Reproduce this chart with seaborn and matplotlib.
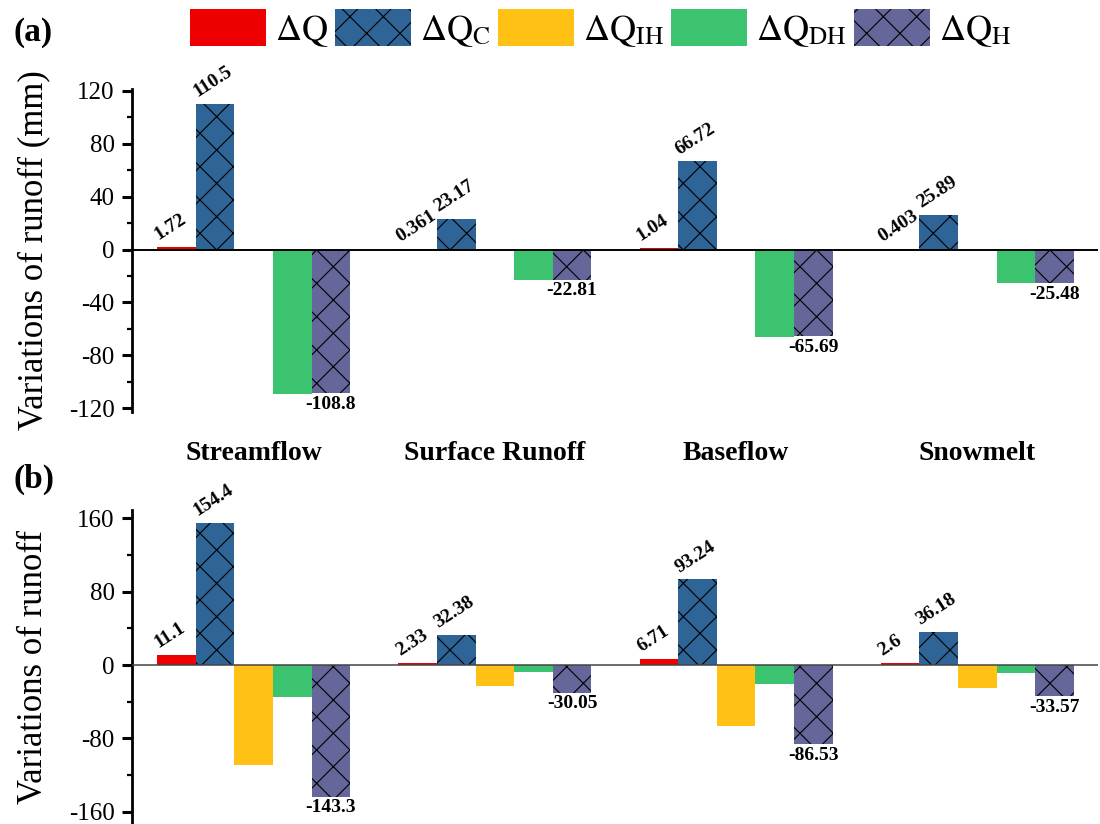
import numpy as np
import pandas as pd
import matplotlib
matplotlib.use("Agg")
import matplotlib.pyplot as plt
from matplotlib.patches import Patch
from matplotlib.ticker import MultipleLocator
import seaborn as sns

# ---------------- data ----------------
categories = ["Streamflow", "Surface Runoff", "Baseflow", "Snowmelt"]
components = ["dQ", "dQC", "dQIH", "dQDH", "dQH"]
legend_labels = [r"$\Delta\mathrm{Q}$", r"$\Delta\mathrm{Q}_{\mathrm{C}}$",
                 r"$\Delta\mathrm{Q}_{\mathrm{IH}}$", r"$\Delta\mathrm{Q}_{\mathrm{DH}}$",
                 r"$\Delta\mathrm{Q}_{\mathrm{H}}$"]

# panel (a)
a_dQ = [1.72, 0.361, 1.04, 0.403]
a_dQC = [110.5, 23.17, 66.72, 25.89]
a_dQIH = [0.5, 0.0, 0.4, 0.0]
a_dQDH = [-109.3, -22.81, -66.09, -25.48]
a_dQH = [-108.8, -22.81, -65.69, -25.48]

# panel (b)
b_dQ = [11.1, 2.33, 6.71, 2.6]
b_dQC = [154.4, 32.38, 93.24, 36.18]
b_dQIH = [-109.0, -22.5, -66.3, -25.3]
b_dQDH = [-34.3, -7.55, -20.23, -8.27]
b_dQH = [-143.3, -30.05, -86.53, -33.57]

colors = ["#EE0000", "#2F6497", "#FFC214", "#3CC36F", "#656699"]
hatched = [False, True, False, False, True]

a_ticks = [-120, -80, -40, 0, 40, 80, 120]
b_ticks = [-160, -80, 0, 80, 160]


def long_df(series):
    rows = []
    for comp, vals in zip(components, series):
        for cat, v in zip(categories, vals):
            rows.append({"category": cat, "component": comp, "value": v})
    return pd.DataFrame(rows)


sns.set_style("white")
plt.rcParams["font.family"] = ["Liberation Serif", "DejaVu Serif"]
plt.rcParams["mathtext.fontset"] = "stix"
plt.rcParams["hatch.linewidth"] = 0.8
plt.rcParams["axes.unicode_minus"] = False
for key in ("text.color", "axes.labelcolor", "xtick.color", "ytick.color"):
    plt.rcParams[key] = "black"

fig = plt.figure(figsize=(11, 8.24), dpi=100)
ax_a = fig.add_axes([0.12, 0.5, 0.878, 0.392])
ax_b = fig.add_axes([0.12, 0.0, 0.878, 0.381])


def draw(ax, series, ylim, major, minor, zero_lw, zero_color):
    df = long_df(series)
    sns.barplot(data=df, x="category", y="value", hue="component",
                order=categories, hue_order=components, palette=colors,
                saturation=1, width=0.8, gap=0, linewidth=0,
                errorbar=None, legend=False, ax=ax)
    for ci, cont in enumerate(ax.containers):
        for bar in cont:
            if hatched[ci]:
                bar.set_hatch("x")
                bar.set_edgecolor("black")
                bar.set_linewidth(0)
    # value labels
    for ci in (0, 1):
        for bar, v in zip(ax.containers[ci], series[ci]):
            top = bar.get_y() + bar.get_height()
            ax.annotate(f"{v:.4g}", xy=(bar.get_x(), top), xytext=(2.5, 2.5),
                        textcoords="offset points", rotation=33,
                        rotation_mode="anchor", ha="left", va="bottom",
                        fontsize=14, fontweight="bold", annotation_clip=False)
    for bar, v in zip(ax.containers[4], series[4]):
        bottom = min(bar.get_y(), bar.get_y() + bar.get_height())
        ax.annotate(f"{v:.4g}", xy=(bar.get_x() + bar.get_width() / 2, bottom),
                    xytext=(0, -2), textcoords="offset points",
                    ha="center", va="top", fontsize=14, fontweight="bold",
                    annotation_clip=False)
    ax.axhline(0, color=zero_color, lw=zero_lw, zorder=3)
    ax.set_xlim(-0.505, 3.5)
    ax.set_ylim(*ylim)
    ax.set_yticks(major)
    ax.yaxis.set_minor_locator(MultipleLocator(minor))
    for s in ("top", "right", "bottom"):
        ax.spines[s].set_visible(False)
    ax.spines["left"].set_linewidth(2.0)
    ax.spines["left"].set_color("black")
    ax.tick_params(axis="y", which="major", direction="out", length=7.5,
                   width=2.2, labelsize=18, pad=5, left=True, colors="black")
    ax.tick_params(axis="y", which="minor", direction="out", length=3.5,
                   width=1.6, left=True, colors="black")
    ax.set_xlabel("")


draw(ax_a, [a_dQ, a_dQC, a_dQIH, a_dQDH, a_dQH], (-123, 121.5), a_ticks, 20, 1.4, "black")
draw(ax_b, [b_dQ, b_dQC, b_dQIH, b_dQDH, b_dQH], (-173.1, 168.7), b_ticks, 40, 1.1, "#444444")

ax_a.set_ylabel("Variations of runoff (mm)", fontsize=25, color="black")
ax_b.set_ylabel("Variations of runoff", fontsize=25, color="black")
ax_a.yaxis.set_label_coords(-0.085, 0.5)
ax_b.yaxis.set_label_coords(-0.085, 0.5)

ax_a.tick_params(axis="x", length=0, pad=21, labelsize=20, labelcolor="black")
for t in ax_a.get_xticklabels():
    t.set_fontweight("bold")
ax_b.tick_params(axis="x", length=0, labelbottom=False)

fig.text(0.0127, 0.9606, "(a)", fontsize=24, fontweight="bold", va="center", ha="left")
fig.text(0.0127, 0.4187, "(b)", fontsize=24, fontweight="bold", va="center", ha="left")

handles = []
for c, h in zip(colors, hatched):
    if h:
        handles.append(Patch(facecolor=c, edgecolor="black", hatch="x", linewidth=0))
    else:
        handles.append(Patch(facecolor=c, linewidth=0))
fig.legend(handles, legend_labels, loc="center", bbox_to_anchor=(0.546, 0.965),
           ncol=5, frameon=False, fontsize=26, handlelength=2.1,
           handleheight=1.2, handletextpad=0.25, columnspacing=0.2,
           borderpad=0, borderaxespad=0)

fig.savefig("out.png", dpi=100)
